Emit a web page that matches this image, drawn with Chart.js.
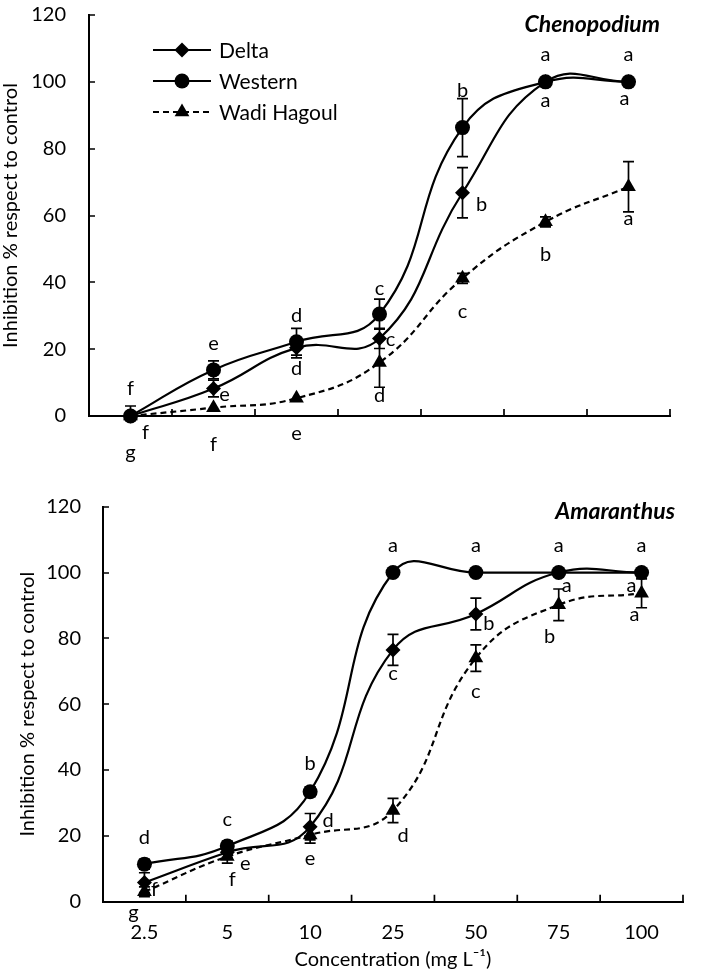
<!DOCTYPE html>
<html>
<head>
<meta charset="utf-8">
<script src="https://cdn.jsdelivr.net/npm/chart.js@4.4.1/dist/chart.umd.min.js"></script>
<style>
  body { margin: 0; background: #fff; width: 708px; height: 973px; overflow: hidden; position: relative; }
  canvas { position: absolute; left: 0; }
  #c1 { top: -20px; }
  #c2 { top: 470px; }
</style>
</head>
<body>
<canvas id="c1" width="708" height="500"></canvas>
<canvas id="c2" width="708" height="503"></canvas>
<script>
// categories
const concentrations = ['2.5', '5', '10', '25', '50', '75', '100'];
const seriesNames = ['Delta', 'Western', 'Wadi Hagoul'];

// Chenopodium
const chenoDelta = [0, 8.2, 20.4, 23.2, 66.8, 100, 100];
const chenoDeltaErr = [0, 2.5, 3, 3, 7.5, 0, 0];
const chenoDeltaLetters = ['f', 'e', 'd', 'c', 'b', 'a', 'a'];
const chenoWestern = [0, 13.8, 22.2, 30.5, 86.3, 100, 100];
const chenoWesternErr = [3, 2.7, 4, 4.5, 8.7, 0, 0];
const chenoWesternLetters = ['f', 'e', 'd', 'c', 'b', 'a', 'a'];
const chenoWadi = [0, 2.5, 5.3, 16, 41.2, 58.1, 68.6];
const chenoWadiErr = [0, 0, 0, 7.4, 1.5, 1.5, 7.5];
const chenoWadiLetters = ['g', 'f', 'e', 'd', 'c', 'b', 'a'];

// Amaranthus
const amarDelta = [5.8, 15, 22.8, 76.5, 87.4, 100, 100];
const amarDeltaErr = [3, 1.5, 4, 4.7, 4.8, 0, 0];
const amarDeltaLetters = ['f', 'e', 'd', 'c', 'b', 'a', 'a'];
const amarWestern = [11.4, 16.9, 33.4, 100, 100, 100, 100];
const amarWesternErr = [1.5, 1.5, 1.5, 0, 0, 0, 0];
const amarWesternLetters = ['d', 'c', 'b', 'a', 'a', 'a', 'a'];
const amarWadi = [3, 13.7, 20.3, 27.7, 74, 90.2, 93.7];
const amarWadiErr = [1.5, 2, 2.5, 3.7, 4, 4.8, 4.4];
const amarWadiLetters = ['g', 'f', 'e', 'd', 'c', 'b', 'a'];

// y ticks
const yMin = 0, yMax = 120, yStep = 20;

// letter placement (pixel offsets from the point)
const chenoDeltaLabelAt = [[15, 16], [11, 5], [0, 20], [11, 0], [19, 11], [0, 18], [-4, 16]];
const chenoWesternLabelAt = [[0, -28], [0, -27], [0, -27], [0, -27], [0, -38], [0, -28], [0, -28]];
const chenoWadiLabelAt = [[0, 36], [0, 36], [0, 34], [0, 32], [0, 32], [0, 32], [0, 31]];
const amarDeltaLabelAt = [[10, 6], [18, 10], [18, -7], [0, 23], [13, 9], [8, 12], [-10, 12]];
const amarWesternLabelAt = [[0, -28], [0, -28], [0, -29], [0, -28], [0, -28], [0, -28], [0, -28]];
const amarWadiLabelAt = [[-11, 20], [5, 22], [0, 23], [10, 24], [0, 32], [-9, 31], [-7, 20]];

const FONT = 'Lato, "Open Sans", sans-serif';
Chart.defaults.font.family = FONT;
Chart.defaults.font.size = 20;
Chart.defaults.color = '#000';

const styles = [
  { pointStyle: 'rectRot', pointRadius: 7.5, borderDash: [] },
  { pointStyle: 'circle', pointRadius: 7.5, borderDash: [] },
  { pointStyle: 'triangle', pointRadius: 8.5, borderDash: [6, 4] }
];

function makeSets(series) {
  return series.map((d, i) => ({
    label: seriesNames[i],
    data: d,
    borderColor: '#000',
    backgroundColor: '#000',
    borderWidth: 2.2,
    borderDash: styles[i].borderDash,
    pointStyle: styles[i].pointStyle,
    pointRadius: styles[i].pointRadius,
    pointBorderWidth: 0,
    tension: 0.45,
    clip: false
  }));
}

// error bars, letters, inward ticks, legend, panel title
const decor = {
  id: 'decor',
  beforeDatasetsDraw(chart, args, o) {
    const ctx = chart.ctx, y = chart.scales.y, a = chart.chartArea;
    ctx.save();
    ctx.beginPath();
    ctx.rect(a.left, a.top - 10, a.right - a.left, a.bottom - a.top + 10);
    ctx.clip();
    ctx.strokeStyle = '#000';
    ctx.lineWidth = 1.7;
    o.errors.forEach((errs, i) => {
      const meta = chart.getDatasetMeta(i);
      errs.forEach((e, j) => {
        if (!e) return;
        const v = chart.data.datasets[i].data[j];
        const x = meta.data[j].x;
        const t = y.getPixelForValue(v + e), b = y.getPixelForValue(v - e);
        ctx.beginPath();
        ctx.moveTo(x, t); ctx.lineTo(x, b);
        ctx.moveTo(x - 5.5, t); ctx.lineTo(x + 5.5, t);
        ctx.moveTo(x - 5.5, b); ctx.lineTo(x + 5.5, b);
        ctx.stroke();
      });
    });
    ctx.restore();
  },
  afterDatasetsDraw(chart, args, o) {
    const ctx = chart.ctx, xs = chart.scales.x, ys = chart.scales.y, a = chart.chartArea;
    ctx.save();
    ctx.strokeStyle = '#000';
    ctx.lineWidth = 1.7;
    ctx.beginPath();
    ys.ticks.forEach(t => {
      const py = Math.round(ys.getPixelForValue(t.value));
      ctx.moveTo(a.left, py); ctx.lineTo(a.left + 6, py);
    });
    const n = chart.data.labels.length;
    for (let i = 1; i <= n; i++) {
      const px = i < n ? (xs.getPixelForValue(i - 1) + xs.getPixelForValue(i)) / 2 : a.right;
      ctx.moveTo(px, a.bottom); ctx.lineTo(px, a.bottom - 7);
    }
    ctx.stroke();

    // letters
    ctx.fillStyle = '#000';
    ctx.font = '20px ' + FONT;
    ctx.textAlign = 'center';
    ctx.textBaseline = 'middle';
    o.letters.forEach((ls, i) => {
      const meta = chart.getDatasetMeta(i);
      ls.forEach((l, j) => {
        const p = meta.data[j];
        ctx.fillText(l, p.x + o.offsets[i][j][0], p.y + o.offsets[i][j][1] + 1);
      });
    });

    // panel title
    ctx.font = 'italic bold 23px ' + FONT;
    ctx.textAlign = 'right';
    ctx.fillText(o.title, o.titleX, o.titleY);

    // legend
    if (o.legend) {
      chart.data.datasets.forEach((ds, i) => {
        const ly = o.legend.y + i * o.legend.gap;
        ctx.lineWidth = 2.2;
        ctx.setLineDash(ds.borderDash);
        ctx.beginPath();
        ctx.moveTo(o.legend.x, ly); ctx.lineTo(o.legend.x + 58, ly);
        ctx.stroke();
        ctx.setLineDash([]);
        Chart.helpers.drawPoint(ctx, { pointStyle: ds.pointStyle, radius: ds.pointRadius, borderWidth: 0, rotation: 0 }, o.legend.x + 29, ly);
        ctx.font = '21px ' + FONT;
        ctx.textAlign = 'left';
        ctx.fillText(ds.label, o.legend.x + 66, ly + 1);
      });
    }
    ctx.restore();
  }
};

function axisX(height, showTicks, title) {
  return {
    offset: true,
    grid: { display: false, drawTicks: false, tickLength: 0 },
    border: { color: '#000', width: 2 },
    ticks: { display: showTicks, padding: 19, color: '#000' },
    title: title ? { display: true, text: title, padding: { top: 1, bottom: 1 } } : { display: false },
    afterFit(s) { s.height = height; }
  };
}
function axisY(width, pad, titlePad) {
  return {
    min: yMin, max: yMax,
    grid: { display: false, drawTicks: false, tickLength: 0 },
    border: { color: '#000', width: 2 },
    ticks: { stepSize: yStep, padding: pad, color: '#000' },
    title: { display: true, text: 'Inhibition % respect to control', padding: { top: titlePad, bottom: titlePad } },
    afterFit(s) { s.width = width; }
  };
}

new Chart(document.getElementById('c1'), {
  type: 'line',
  data: { labels: concentrations, datasets: makeSets([chenoDelta, chenoWestern, chenoWadi]) },
  options: {
    responsive: false,
    animation: false,
    layout: { padding: { left: 0, right: 38, top: 28, bottom: 0 } },
    plugins: {
      legend: { display: false },
      tooltip: { enabled: false },
      decor: {
        errors: [chenoDeltaErr, chenoWesternErr, chenoWadiErr],
        letters: [chenoDeltaLetters, chenoWesternLetters, chenoWadiLetters],
        offsets: [chenoDeltaLabelAt, chenoWesternLabelAt, chenoWadiLabelAt],
        title: 'Chenopodium', titleX: 660, titleY: 45,
        legend: { x: 153, y: 70, gap: 31 }
      }
    },
    scales: { x: axisX(64, false, null), y: axisY(89, 23, -1) }
  },
  plugins: [decor]
});

new Chart(document.getElementById('c2'), {
  type: 'line',
  data: { labels: concentrations, datasets: makeSets([amarDelta, amarWestern, amarWadi]) },
  options: {
    responsive: false,
    animation: false,
    layout: { padding: { left: 0, right: 25, top: 36.7, bottom: 0 } },
    plugins: {
      legend: { display: false },
      tooltip: { enabled: false },
      decor: {
        errors: [amarDeltaErr, amarWesternErr, amarWadiErr],
        letters: [amarDeltaLetters, amarWesternLetters, amarWadiLetters],
        offsets: [amarDeltaLabelAt, amarWesternLabelAt, amarWadiLabelAt],
        title: 'Amaranthus', titleX: 675, titleY: 42,
        legend: null
      }
    },
    scales: { x: axisX(71.3, true, 'Concentration (mg L\u207B\u00B9)'), y: axisY(103, 22, 16) }
  },
  plugins: [decor]
});
</script>
</body>
</html>
